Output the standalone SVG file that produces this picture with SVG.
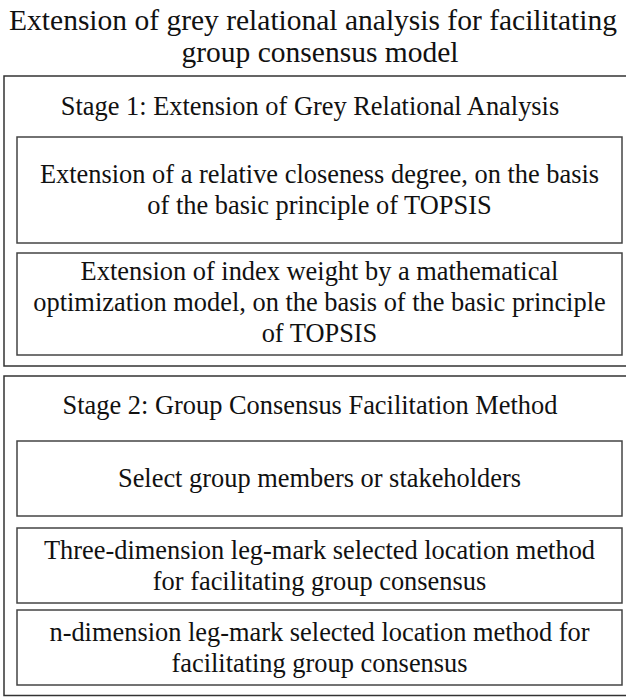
<svg xmlns="http://www.w3.org/2000/svg" width="626" height="697" viewBox="0 0 626 697">
<style>
text{font-family:"Liberation Serif","Times New Roman",serif;font-size:26.4px;fill:#111;text-anchor:middle}
.ttl{font-size:29.5px}
.outer{fill:none;stroke:#333;stroke-width:1.5}
.inner{fill:none;stroke:#444;stroke-width:1.5}
</style>
<rect width="626" height="697" fill="#fff"/>
<g id="title">
<text class="ttl" x="313" y="30">Extension of grey relational analysis for facilitating</text>
<text class="ttl" x="320" y="62">group consensus model</text>
</g>
<g id="stage1">
<rect class="outer" x="4" y="76" width="630" height="290"/>
<text x="310" y="115">Stage 1: Extension of Grey Relational Analysis</text>
</g>
<g id="box1">
<rect class="inner" x="17" y="137" width="605" height="106"/>
<text x="319.5" y="183">Extension of a relative closeness degree, on the basis</text>
<text x="319.5" y="214">of the basic principle of TOPSIS</text>
</g>
<g id="box2">
<rect class="inner" x="17" y="253" width="605" height="102"/>
<text x="319.5" y="280">Extension of index weight by a mathematical</text>
<text x="319.5" y="311">optimization model, on the basis of the basic principle</text>
<text x="319.5" y="342">of TOPSIS</text>
</g>
<g id="stage2">
<rect class="outer" x="4" y="376" width="630" height="319.5"/>
<text x="310" y="414">Stage 2: Group Consensus Facilitation Method</text>
</g>
<g id="box3">
<rect class="inner" x="17" y="441" width="605" height="75"/>
<text x="319.5" y="487">Select group members or stakeholders</text>
</g>
<g id="box4">
<rect class="inner" x="17" y="528" width="605" height="75"/>
<text x="319.5" y="559">Three-dimension leg-mark selected location method</text>
<text x="319.5" y="590">for facilitating group consensus</text>
</g>
<g id="box5">
<rect class="inner" x="17" y="610" width="605" height="75"/>
<text x="319.5" y="641">n-dimension leg-mark selected location method for</text>
<text x="319.5" y="672">facilitating group consensus</text>
</g>
<g id="connectors"></g>
</svg>
